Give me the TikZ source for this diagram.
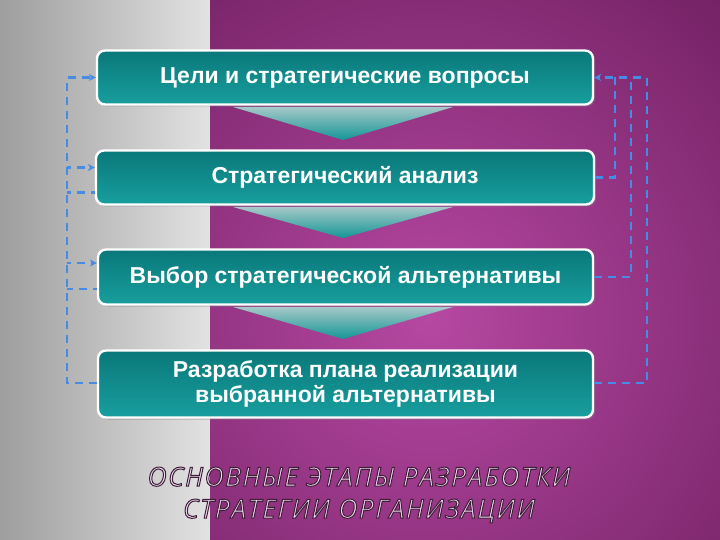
\documentclass[tikz,border=0pt]{standalone}
\usepackage{fontspec}
\setmainfont{Liberation Sans}
\newfontfamily\titlefont[LetterSpace=6]{Open Sans}
\usetikzlibrary{arrows.meta,shadows}
\definecolor{flowblue}{RGB}{70,140,230}
\definecolor{tealtop}{RGB}{10,120,122}
\definecolor{tealbot}{RGB}{24,158,158}
\definecolor{titlefill}{RGB}{245,222,245}
\definecolor{grayL}{RGB}{158,158,158}
\definecolor{grayR}{RGB}{226,226,226}
\definecolor{purpdark}{RGB}{88,18,76}
\definecolor{purplight}{RGB}{182,72,162}
\definecolor{funtop}{RGB}{165,200,200}
\definecolor{funbot}{RGB}{20,150,150}
\newcommand\outlinedtext[1]{\special{pdf:code q 2 Tr 1.0 w 0.24 0.12 0.22 RG}#1\special{pdf:code Q}}
\tikzset{
  stage/.style={draw=white, line width=2.4pt, rounded corners=8pt,
    top color=tealtop, bottom color=tealbot, text=white,
    font=\bfseries\fontsize{23}{25}\selectfont, align=center,
    drop shadow={opacity=0.45, shadow xshift=2pt, shadow yshift=-2pt}},
  link/.style={draw=flowblue, line width=2.4pt, dash pattern=on 8pt off 6pt},
  linkarrow/.style={link, -{Stealth[length=7pt,width=7pt]}},
  funnel/.style={top color=funtop, bottom color=funbot, draw=none}
}
\begin{document}
\begin{tikzpicture}[x=1pt,y=-1pt]
\useasboundingbox (0,0) rectangle (720,540);
% background
\shade[left color=grayL, right color=grayR] (0,0) rectangle (210,540);
\fill[purpdark] (210,0) rectangle (720,540);
\begin{scope}
\clip (210,0) rectangle (720,540);
\shade[inner color=purplight, outer color=purpdark] (430,320) circle (620);
\end{scope}
% funnels
\shade[funnel] (233,107) -- (453,107) -- (343,140) -- cycle;
\shade[funnel] (233,207) -- (453,207) -- (343,238) -- cycle;
\shade[funnel] (233,307) -- (453,307) -- (343,339) -- cycle;
% stages
\node[stage, minimum width=496pt, minimum height=54pt] (b1) at (345,77.5) {Цели и стратегические вопросы};
\node[stage, minimum width=498pt, minimum height=54pt] (b2) at (345,177.5) {Стратегический анализ};
\node[stage, minimum width=495pt, minimum height=55pt] (b3) at (345.5,277) {Выбор стратегической альтернативы};
\node[stage, minimum width=495pt, minimum height=67pt] (b4) at (345.5,384) {Разработка плана реализации\\выбранной альтернативы};
% left feedback
\coordinate (L) at (67,0);
\draw[linkarrow] ([yshift=1pt]b4.west) -- ([yshift=1pt]b4.west -| L) -- (b1.west -| L) -- (b1.west);
\draw[link, dash phase=4pt] ([yshift=-15pt]b2.west) -- ([yshift=-15pt]b2.west -| L);
\draw[linkarrow, dash phase=4pt] ([yshift=10pt]b2.west -| L) -- ([yshift=10pt]b2.west);
\draw[link, dash phase=4pt] ([yshift=-12pt]b3.west) -- ([yshift=-12pt]b3.west -| L);
\draw[linkarrow, dash phase=4pt] ([yshift=14pt]b3.west -| L) -- ([yshift=14pt]b3.west);
% right feedback
\coordinate (R1) at (615,0);
\coordinate (R2) at (631,0);
\coordinate (R3) at (647,0);
\draw[linkarrow] ([yshift=1pt]b4.east) -- ([yshift=1pt]b4.east -| R3) -- (b1.east -| R3) -- (b1.east);
\draw[link] (b3.east) -- (b3.east -| R2) -- (b1.east -| R2);
\draw[link] (b2.east) -- (b2.east -| R1) -- (b1.east -| R1);
% title
\node[font=\titlefont\itshape\fontsize{26.3}{32}\selectfont, text=titlefill, align=center] (title) at (359,495) {\outlinedtext{ОСНОВНЫЕ ЭТАПЫ РАЗРАБОТКИ}\\\outlinedtext{СТРАТЕГИИ ОРГАНИЗАЦИИ}};
\end{tikzpicture}
\end{document}
